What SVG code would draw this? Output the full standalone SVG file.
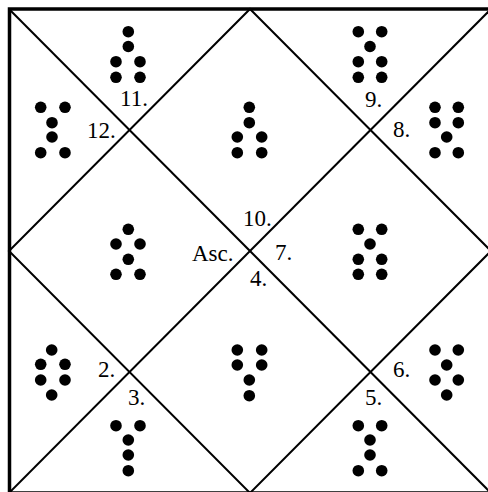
<svg xmlns="http://www.w3.org/2000/svg" xmlns:xlink="http://www.w3.org/1999/xlink" width="488" height="492" viewBox="0 0 488 492">
<style>
.ln{stroke:#000;stroke-width:2;fill:none}
.bd{stroke:#000;stroke-width:3.5;fill:none}
.d{fill:#000}
.t{font-family:"Liberation Serif","Times New Roman",serif;font-size:23px;fill:#000}
</style>
<defs>
<circle id="dot" r="5.8" class="d"/>
</defs>
<rect width="488" height="492" fill="#fff"/>
<g id="connectors">
<rect class="bd" x="9.5" y="9" width="482" height="484"/>
<line class="ln" x1="9" y1="9" x2="491" y2="493"/>
<line class="ln" x1="491" y1="9" x2="9" y2="493"/>
<polygon class="ln" points="250,9 491,251 250,493 9,251"/>
</g>
<g id="house11">
<use xlink:href="#dot" x="128.3" y="31.7"/><use xlink:href="#dot" x="128.3" y="46.5"/>
<use xlink:href="#dot" x="116" y="61.7"/><use xlink:href="#dot" x="140" y="61.7"/>
<use xlink:href="#dot" x="116" y="77.3"/><use xlink:href="#dot" x="140" y="77.3"/>
<text class="t" x="120" y="106">11.</text>
</g>
<g id="house12">
<use xlink:href="#dot" x="40.7" y="107.3"/><use xlink:href="#dot" x="65" y="107.3"/>
<use xlink:href="#dot" x="52" y="122.7"/><use xlink:href="#dot" x="52" y="137"/>
<use xlink:href="#dot" x="40.7" y="152.7"/><use xlink:href="#dot" x="65" y="152.7"/>
<text class="t" x="87" y="138">12.</text>
</g>
<g id="house10">
<use xlink:href="#dot" x="249.3" y="107.3"/><use xlink:href="#dot" x="249.3" y="122.7"/>
<use xlink:href="#dot" x="237.3" y="137"/><use xlink:href="#dot" x="261.7" y="137"/>
<use xlink:href="#dot" x="237.3" y="152.7"/><use xlink:href="#dot" x="261.7" y="152.7"/>
<text class="t" x="243" y="226">10.</text>
</g>
<g id="house9">
<use xlink:href="#dot" x="358.3" y="31.7"/><use xlink:href="#dot" x="381.7" y="31.7"/>
<use xlink:href="#dot" x="370" y="46.5"/>
<use xlink:href="#dot" x="358.3" y="61.7"/><use xlink:href="#dot" x="381.7" y="61.7"/>
<use xlink:href="#dot" x="358.3" y="77.3"/><use xlink:href="#dot" x="381.7" y="77.3"/>
<text class="t" x="365" y="107">9.</text>
</g>
<g id="house8">
<use xlink:href="#dot" x="435" y="107.3"/><use xlink:href="#dot" x="458.3" y="107.3"/>
<use xlink:href="#dot" x="435" y="122.7"/><use xlink:href="#dot" x="458.3" y="122.7"/>
<use xlink:href="#dot" x="446.7" y="137"/>
<use xlink:href="#dot" x="435" y="152.7"/><use xlink:href="#dot" x="458.3" y="152.7"/>
<text class="t" x="393" y="137">8.</text>
</g>
<g id="house1">
<use xlink:href="#dot" x="128.3" y="229.3"/>
<use xlink:href="#dot" x="116" y="244"/><use xlink:href="#dot" x="140" y="244"/>
<use xlink:href="#dot" x="128.3" y="259.3"/>
<use xlink:href="#dot" x="116" y="274.3"/><use xlink:href="#dot" x="140" y="274.3"/>
<text class="t" x="192" y="261" font-size="24">Asc.</text>
</g>
<g id="house7">
<use xlink:href="#dot" x="358.3" y="229.3"/><use xlink:href="#dot" x="381.7" y="229.3"/>
<use xlink:href="#dot" x="370" y="244"/>
<use xlink:href="#dot" x="358.3" y="259.3"/><use xlink:href="#dot" x="381.7" y="259.3"/>
<use xlink:href="#dot" x="358.3" y="274.3"/><use xlink:href="#dot" x="381.7" y="274.3"/>
<text class="t" x="275" y="260">7.</text>
</g>
<g id="house4">
<use xlink:href="#dot" x="237.3" y="350"/><use xlink:href="#dot" x="261.7" y="350"/>
<use xlink:href="#dot" x="237.3" y="365"/><use xlink:href="#dot" x="261.7" y="365"/>
<use xlink:href="#dot" x="249.3" y="380"/><use xlink:href="#dot" x="249.3" y="395.7"/>
<text class="t" x="250" y="286">4.</text>
</g>
<g id="house2">
<use xlink:href="#dot" x="51.7" y="350"/>
<use xlink:href="#dot" x="40.7" y="364.3"/><use xlink:href="#dot" x="65" y="364.3"/>
<use xlink:href="#dot" x="40.7" y="380"/><use xlink:href="#dot" x="65" y="380"/>
<use xlink:href="#dot" x="51.7" y="395"/>
<text class="t" x="98" y="377">2.</text>
</g>
<g id="house3">
<use xlink:href="#dot" x="116" y="425.7"/><use xlink:href="#dot" x="140" y="425.7"/>
<use xlink:href="#dot" x="128.3" y="440"/><use xlink:href="#dot" x="128.3" y="455"/>
<use xlink:href="#dot" x="128.3" y="470.7"/>
<text class="t" x="128" y="405">3.</text>
</g>
<g id="house6">
<use xlink:href="#dot" x="435" y="350"/><use xlink:href="#dot" x="458.3" y="350"/>
<use xlink:href="#dot" x="446.7" y="365"/>
<use xlink:href="#dot" x="435" y="380"/><use xlink:href="#dot" x="458.3" y="380"/>
<use xlink:href="#dot" x="446.7" y="395"/>
<text class="t" x="393" y="377">6.</text>
</g>
<g id="house5">
<use xlink:href="#dot" x="358.3" y="425.7"/><use xlink:href="#dot" x="381.7" y="425.7"/>
<use xlink:href="#dot" x="370" y="440"/><use xlink:href="#dot" x="370" y="455"/>
<use xlink:href="#dot" x="358.3" y="470.7"/><use xlink:href="#dot" x="381.7" y="470.7"/>
<text class="t" x="365" y="405">5.</text>
</g>
</svg>
